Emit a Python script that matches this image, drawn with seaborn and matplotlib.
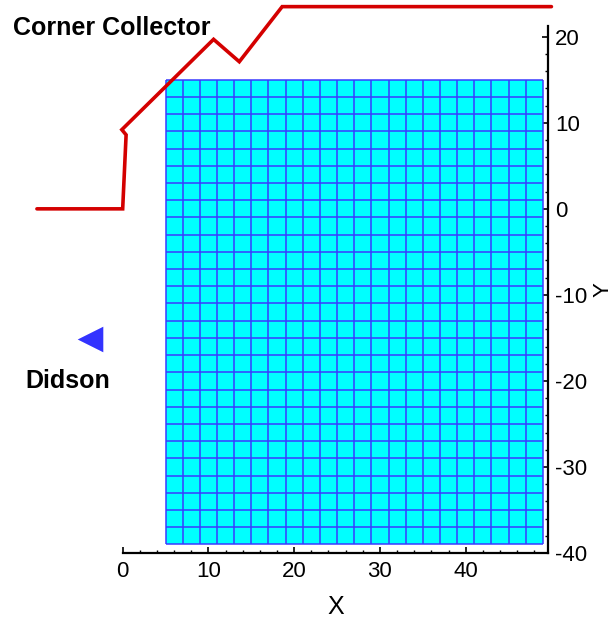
import matplotlib
matplotlib.use('Agg')

import matplotlib.pyplot as plt
from matplotlib.colors import ListedColormap
from matplotlib.ticker import MultipleLocator
import numpy as np
import seaborn as sns

# === Data ===
# corner collector outline (x, y)
collector_x = [-10.0, 0.0, 0.4, -0.1, 10.6, 13.6, 18.6, 50.0]
collector_y = [0.0, 0.0, 8.6, 9.2, 19.7, 17.1, 23.5, 23.5]

# Didson position
didson_x = [-3.8]
didson_y = [-15.1]

# computational mesh: 2 x 2 cells
mesh_x_min, mesh_x_max = 5, 49
mesh_y_min, mesh_y_max = -39, 15
mesh_step = 2

x_ticks = [0, 10, 20, 30, 40]
y_ticks = [-40, -30, -20, -10, 0, 10, 20]

# === Style ===
sns.set_style("ticks")
plt.rcParams['font.family'] = ['Liberation Sans', 'DejaVu Sans']
plt.rcParams['axes.unicode_minus'] = False
plt.rcParams['text.color'] = 'black'
plt.rcParams['axes.labelcolor'] = 'black'

RED = "#d40000"
CYAN = "#00ffff"
MESH_LINE = "#3a3aff"
BLUE = "#3333ff"

fig = plt.figure(figsize=(6.14, 6.19), dpi=100)
ax = fig.add_axes([0.1998, 0.1066, 0.6927, 0.8514])

# === Mesh ===
mx = np.arange(mesh_x_min, mesh_x_max + 1, mesh_step)
my = np.arange(mesh_y_min, mesh_y_max + 1, mesh_step)
cells = np.zeros((len(my) - 1, len(mx) - 1))
ax.pcolormesh(mx, my, cells, cmap=ListedColormap([CYAN]), zorder=1)
ax.vlines(mx, mesh_y_min, mesh_y_max, color=MESH_LINE, linewidth=1.1, zorder=2)
ax.hlines(my, mesh_x_min, mesh_x_max, color=MESH_LINE, linewidth=1.1, zorder=2)

# === Corner collector line ===
sns.lineplot(x=collector_x, y=collector_y, sort=False, estimator=None,
             color=RED, linewidth=2.6, ax=ax, zorder=3)
for ln in ax.lines:
    ln.set_clip_on(False)
    ln.set_solid_joinstyle('miter')

# === Didson marker ===
sns.scatterplot(x=didson_x, y=didson_y, marker='<', s=340, color=BLUE,
                linewidth=0, ax=ax, zorder=4, clip_on=False)

# === Labels on the plot ===
ax.text(-12.8, 20.2, "Corner Collector", fontsize=18, fontweight='bold',
        ha='left', va='baseline')
ax.text(-6.35, -20.85, "Didson", fontsize=18, fontweight='bold',
        ha='center', va='baseline')

# === Axes ===
ax.set_xlim(0, 49.6)
ax.set_ylim(-40, 21.25)

ax.spines['left'].set_visible(False)
ax.spines['top'].set_visible(False)
ax.spines['right'].set_linewidth(1.6)
ax.spines['bottom'].set_linewidth(1.6)
ax.spines['right'].set_color('black')
ax.spines['bottom'].set_color('black')

ax.yaxis.tick_right()
ax.yaxis.set_label_position('right')
ax.set_xticks(x_ticks)
ax.set_yticks(y_ticks)
ax.xaxis.set_minor_locator(MultipleLocator(2))
ax.yaxis.set_minor_locator(MultipleLocator(2))
ax.tick_params(which='major', direction='in', length=4.5, width=1.2,
               labelsize=16, pad=5, colors='black')
ax.tick_params(which='minor', direction='in', length=2.3, width=1.0,
               colors='black')
ax.tick_params(axis='x', pad=6)

ax.set_xlabel("X", fontsize=18, labelpad=9)
ax.set_ylabel("Y", fontsize=16, labelpad=4)

plt.savefig("out.png", dpi=100)
